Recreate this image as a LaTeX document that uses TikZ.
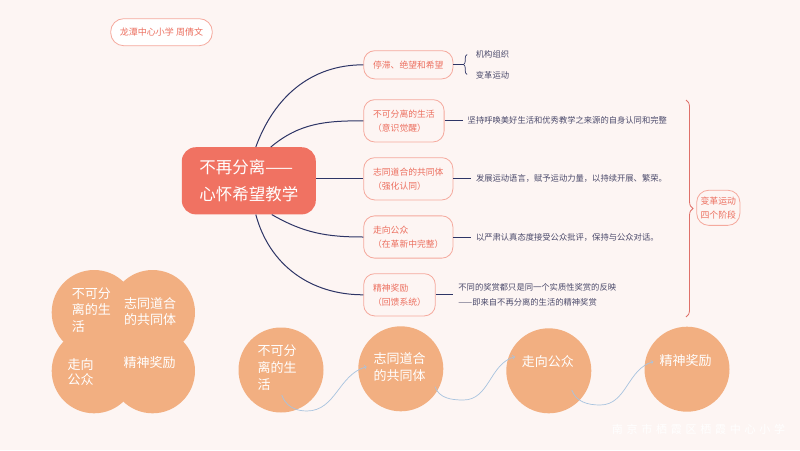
\documentclass[tikz,border=0pt]{standalone}
\usepackage{fontspec}
\setmainfont{Noto Sans CJK SC}
\newfontfamily\markfont[LetterSpace=34]{Noto Sans CJK SC}
\usepackage{xcolor}
\usepackage{tikz}
\usetikzlibrary{positioning,decorations.pathreplacing}

\definecolor{paper}{HTML}{FDF5F3}
\definecolor{coral}{HTML}{F07262}
\definecolor{blush}{HTML}{F5A99D}
\definecolor{rose}{HTML}{EC6F5F}
\definecolor{navy}{HTML}{2E3566}
\definecolor{ink}{HTML}{4B4A6B}
\definecolor{bracecol}{HTML}{DF7069}
\definecolor{sand}{HTML}{F2AF81}
\definecolor{skyline}{HTML}{A7C3DF}

\tikzset{
	topic/.style={fill=coral, rounded corners=14pt, text=white, align=left,
		font=\fontsize{16.5}{27}\selectfont, inner xsep=17.5pt, inner ysep=12.4pt},
	stage/.style={draw=blush, fill=paper, line width=0.8pt, rounded corners=11pt, text=rose,
		align=left, font=\fontsize{8.8}{14}\selectfont, inner xsep=9.4pt, inner ysep=10pt},
	note/.style={text=ink, align=left, font=\fontsize{8.3}{14.4}\selectfont, inner xsep=5pt, inner ysep=2pt},
	bough/.style={navy, line width=1pt},
	twig/.style={navy, line width=0.7pt},
	ball/.style={circle, fill=sand, minimum size=85pt, inner sep=0pt},
	petal/.style={text=white, align=left, inner sep=0pt, anchor=west},
	flow/.style={->, skyline, line width=0.7pt},
}

\begin{document}
\begin{tikzpicture}[x=1pt,y=1pt]
	\useasboundingbox (0,0) rectangle (800,-450);
	\fill[paper] (0,0) rectangle (800,-450);

	% author and title
	\node[draw=blush, fill=white, line width=0.8pt, rounded corners=13pt, text=rose,
		font=\fontsize{9}{11}\selectfont, inner xsep=9.3pt, inner ysep=9.3pt] (author) at (161.5,-32.2) {龙潭中心小学 周倩文};
	\node[topic] (title) at (248.8,-180.8) {不再分离——\\心怀希望教学};

	% the five stages
	\node[stage, anchor=west] (stop) at (363.3,-64.8) {停滞、绝望和希望};
	\node[stage, anchor=west] (life) at (363.3,-120.8) {不可分离的生活\\（意识觉醒）};
	\node[stage, anchor=west] (community) at (363.3,-178.8) {志同道合的共同体\\（强化认同）};
	\node[stage, anchor=west] (public) at (363.3,-237) {走向公众\\（在革新中完整）};
	\node[stage, anchor=west] (reward) at (363.3,-294.8) {精神奖励\\（回馈系统）};

	\draw[bough] ([xshift=7pt]title.north) to[out=70,in=180] (stop.west);
	\draw[bough] ([xshift=22pt]title.north) to[out=40,in=180] (life.west);
	\draw[bough] (title.east |- community.west) -- (community.west);
	\draw[bough] ([xshift=23pt]title.south) to[out=-30,in=180] (public.west);
	\draw[bough] ([xshift=7pt]title.south) to[out=-75,in=180] (reward.west);

	% notes
	\draw[twig] (stop.east) -- ++(10.5,0);
	\draw[twig, decorate, decoration={brace, amplitude=3.5pt}] (467,-74.5) -- (467,-54.5);
	\node[note, anchor=west] (org) at (470.7,-54) {机构组织};
	\node[note, anchor=west] (move) at (470.7,-75.7) {变革运动};

	\node[note, right=18pt of life] (lifeNote) {坚持呼唤美好生活和优秀教学之来源的自身认同和完整};
	\node[note, right=17.5pt of community] (communityNote) {发展运动语言，赋予运动力量，以持续开展、繁荣。};
	\node[note, right=17.5pt of public] (publicNote) {以严肃认真态度接受公众批评，保持与公众对话。};
	\node[note, right=17.5pt of reward] (rewardNote) {不同的奖赏都只是同一个实质性奖赏的反映\\——即来自不再分离的生活的精神奖赏};
	\draw[twig] (life) -- (lifeNote);
	\draw[twig] (community) -- (communityNote);
	\draw[twig] (public) -- (publicNote);
	\draw[twig] (reward) -- (rewardNote);

	\draw[bracecol, line width=0.8pt, decorate, decoration={brace, amplitude=7pt}] (686,-100) -- (686,-317);
	\node[draw=blush, fill=paper, line width=0.8pt, rounded corners=12pt, text=rose, align=center,
		font=\fontsize{8.9}{14}\selectfont, inner xsep=3.8pt, inner ysep=6.4pt] (phases) at (718.3,-207.8) {变革运动\\四个阶段};

	% four petals
	\foreach \x/\y in {94.1/-312.4, 152.6/-312.4, 94.1/-370.9, 152.6/-370.9}
		\fill[sand] (\x,\y) circle (42.4pt);
	\node[petal, font=\fontsize{13}{16.7}\selectfont] (petalA) at (71.7,-310) {不可分\\离的生\\活};
	\node[petal, font=\fontsize{13}{16}\selectfont] (petalB) at (124,-311.3) {志同道合\\的共同体};
	\node[petal, font=\fontsize{13}{15.3}\selectfont] (petalC) at (67.3,-371.7) {走向\\公众};
	\node[petal, font=\fontsize{13}{16}\selectfont] (petalD) at (123.3,-362.7) {精神奖励};

	% the row of stages
	\node[ball] (c1) at (281,-370) {};
	\node[ball] (c2) at (400.8,-368.8) {};
	\node[ball] (c3) at (548.8,-370.8) {};
	\node[ball] (c4) at (687,-369.2) {};
	\node[petal, font=\fontsize{13}{17}\selectfont] (t1) at (257.3,-367.3) {不可分\\离的生\\活};
	\node[petal, font=\fontsize{13}{16.7}\selectfont] (t2) at (373.3,-366.7) {志同道合\\的共同体};
	\node[petal, font=\fontsize{13}{16}\selectfont] (t3) at (521.7,-361.7) {走向公众};
	\node[petal, font=\fontsize{13}{16}\selectfont] (t4) at (659.3,-360.7) {精神奖励};

	\draw[flow] ([shift={(0.7,-25)}]c1.center) to[out=-70,in=180] ++(25,-16) to[out=0,in=195] ([shift={(-34.1,2.1)}]c2.center);
	\draw[flow] ([shift={(34.2,-17.9)}]c2.center) to[out=-70,in=180] ++(28.3,-13.3) to[out=0,in=195] ([shift={(-33.8,14.1)}]c3.center);
	\draw[flow] ([shift={(22.9,-19.2)}]c3.center) to[out=-70,in=180] ++(28.3,-15) to[out=0,in=195] ([shift={(-33.7,7.5)}]c4.center);

	\node[white, anchor=west, inner sep=0pt, font=\markfont\fontsize{11}{13}\selectfont] (school) at (611.7,-429.3) {南京市栖霞区栖霞中心小学};
\end{tikzpicture}
\end{document}
